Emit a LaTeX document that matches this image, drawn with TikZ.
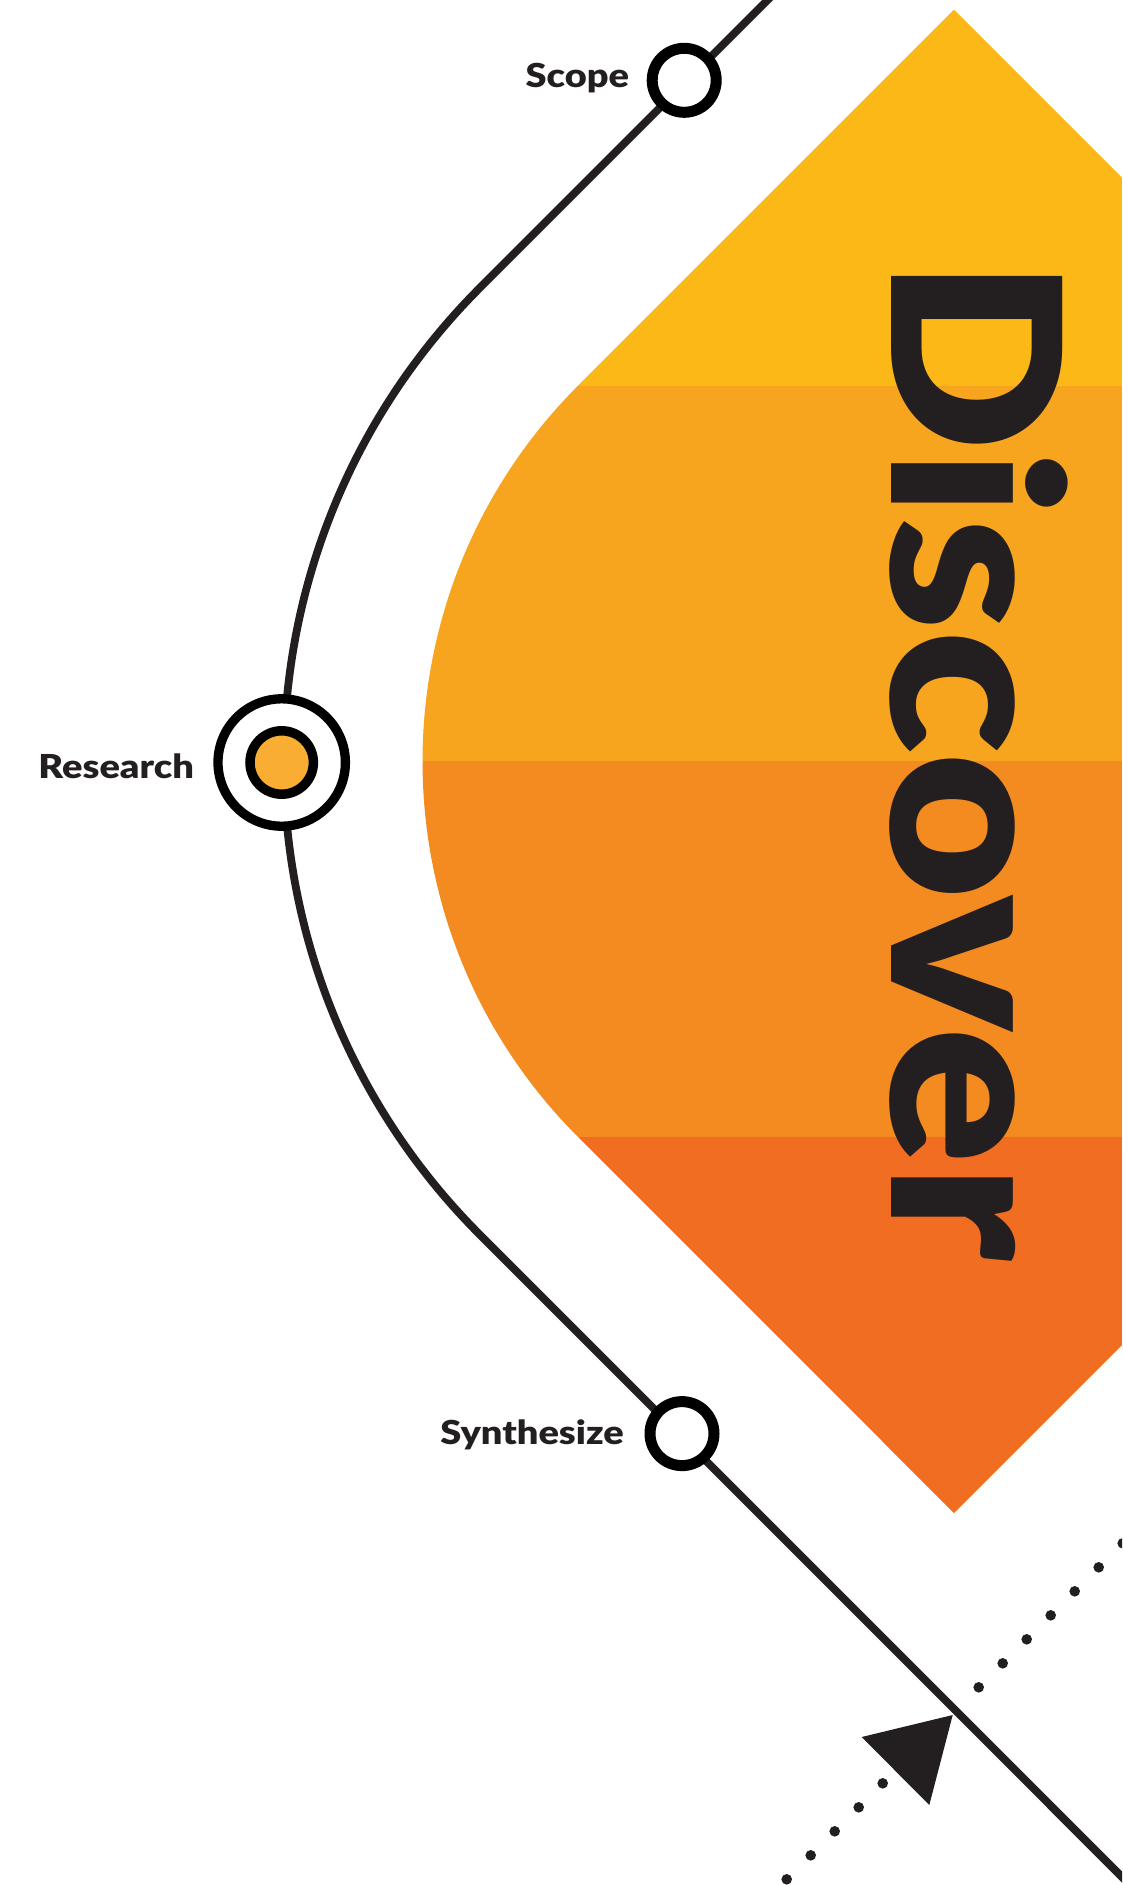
\documentclass[tikz,border=0pt]{standalone}
\usepackage{fontspec}
\usepackage{graphicx}
\newfontfamily\latoblack{Lato Black}
\newfontfamily\latobold{Lato Bold}
\definecolor{band1}{HTML}{FBB817}
\definecolor{band2}{HTML}{F7A41F}
\definecolor{band3}{HTML}{F38B20}
\definecolor{band4}{HTML}{F06D22}
\definecolor{ink}{HTML}{231F20}
\definecolor{dotfill}{HTML}{F9AE33}
\tikzset{
  track/.style={draw=ink, line width=7.8pt},
  stopring/.style={circle, draw=black, fill=white, line width=11pt, minimum size=64pt, inner sep=0pt},
  lbl/.style={font=\latoblack\fontsize{33}{33}\selectfont, text=ink, inner sep=0pt, anchor=base east},
  dotmark/.style={circle, fill=ink, minimum size=10.6pt, inner sep=0pt},
}
\newcommand{\lbltext}[1]{\scalebox{1.15}[1]{#1}}
\begin{document}
\begin{tikzpicture}[x=1pt,y=1pt]
\useasboundingbox (0,0) rectangle (1122,-1885);
\clip (0,0) rectangle (1122,-1885);
% orange rounded diamond with four bands
\begin{scope}
  \clip (954,-9.6) -- (578.2,-385.5) arc[start angle=135, end angle=225, radius=531.5]
        -- (954,-1513) -- (1260,-1207) -- (1260,-315.6) -- cycle;
  \fill[band1] (300,0) rectangle (1122,-385.5);
  \fill[band2] (300,-385.5) rectangle (1122,-761.3);
  \fill[band3] (300,-761.3) rectangle (1122,-1137.1);
  \fill[band4] (300,-1137.1) rectangle (1122,-1520);
\end{scope}
% big title
\node[rotate=-90, anchor=base, text=ink, inner sep=0pt, font=\latoblack\fontsize{235}{235}\selectfont]
  (title) at (891.7,-759.7) {\scalebox{1.08}[1]{Discover}};
% track
\coordinate (trackstart) at (797.7,30);
\coordinate (trackend) at (1150,-1905);
\draw[track] (trackstart) -- (480.2,-287.5) arc[start angle=135, end angle=225, radius=670] -- (trackend);
% stops
\node[stopring] (scope) at (684.2,-80.3) {};
\node[stopring] (synth) at (682,-1433.6) {};
\node[circle, draw=black, fill=white, line width=9.3pt, minimum size=127.4pt, inner sep=0pt] (research) at (281.7,-762.5) {};
\node[circle, draw=black, fill=dotfill, line width=9.5pt, minimum size=63.4pt, inner sep=0pt] (researchcore) at (research.center) {};
% labels
\node[lbl] (scopelbl) at (629.3,-87.5) {\lbltext{Scope}};
\node[lbl] (synthlbl) at (624,-1444.3) {\lbltext{Synthesize}};
\node[lbl] (researchlbl) at (194,-778) {\lbltext{Research}};
% dotted return path with arrowhead
\foreach \k in {0,...,4,8,9,...,14}{
  \node[dotmark] at ({786.7+24*\k},{-(2666-786.7-24*\k)}) {};
}
\coordinate (tip) at (952.7,-1715);
\fill[ink] (tip) -- (861.7,-1737) -- (929.3,-1805) -- cycle;
\end{tikzpicture}
\end{document}
